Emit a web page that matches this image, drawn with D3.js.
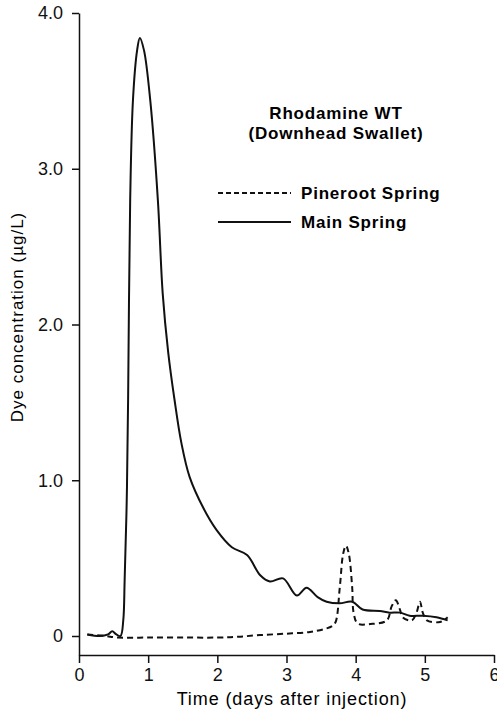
<!DOCTYPE html>
<html>
<head>
<meta charset="utf-8">
<script src="https://cdn.jsdelivr.net/npm/d3@7/dist/d3.min.js"></script>
<style>
  body { margin: 0; background: #fff; }
  svg { display: block; font-family: "Liberation Sans", Arial, Helvetica, sans-serif; }
  .axis path, .axis line { stroke: #111; stroke-width: 1.5; }
  .axis text { font-size: 18px; fill: #111; }
</style>
</head>
<body>
<svg width="497" height="711"></svg>
<script>
// Rhodamine WT breakthrough curves

// Main Spring (solid line)
var mainDays = [0.12, 0.3, 0.42, 0.48, 0.54, 0.6, 0.64, 0.66, 0.69, 0.71, 0.74, 0.78, 0.84, 0.88,
                0.94, 1.03, 1.14, 1.21, 1.29, 1.38, 1.48, 1.6, 1.8, 1.99, 2.21, 2.43, 2.62, 2.76,
                2.95, 3.15, 3.29, 3.45, 3.58, 3.77, 3.95, 4.1, 4.35, 4.49, 4.64, 4.78, 4.97, 5.17, 5.33];
var mainConc = [0.01, 0.0, 0.01, 0.03, 0.01, 0.0, 0.1, 0.36, 0.87, 1.52, 2.8, 3.44, 3.76, 3.84,
                3.76, 3.44, 2.8, 2.2, 1.82, 1.52, 1.24, 1.02, 0.82, 0.68, 0.57, 0.52, 0.39, 0.35,
                0.37, 0.26, 0.31, 0.25, 0.22, 0.21, 0.22, 0.17, 0.16, 0.15, 0.15, 0.13, 0.13, 0.12, 0.10];

// Pineroot Spring (dashed line)
var pineDays = [0.12, 0.38, 0.56, 1.0, 1.5, 2.0, 2.3, 2.62, 3.0, 3.34, 3.55, 3.66, 3.71, 3.77,
                3.82, 3.86, 3.9, 3.95, 3.97, 4.03, 4.21, 4.45, 4.52, 4.58, 4.64, 4.68, 4.81,
                4.88, 4.93, 4.97, 5.03, 5.22, 5.33];
var pineConc = [0.01, 0.0, -0.01, -0.01, -0.01, -0.01, -0.005, 0.006, 0.015, 0.026, 0.045, 0.064,
                0.09, 0.31, 0.53, 0.58, 0.53, 0.31, 0.15, 0.08, 0.077, 0.10, 0.19, 0.23, 0.17,
                0.12, 0.10, 0.15, 0.22, 0.15, 0.10, 0.09, 0.12];

var xTicks = [0, 1, 2, 3, 4, 5, 6];
var yTicks = [0, 1, 2, 3, 4];

var titleLines = ["Rhodamine WT", "(Downhead Swallet)"];
var legendNames = ["Pineroot Spring", "Main Spring"];

var svg = d3.select("svg");

// x axis runs 0..6 days; y axis line drops a bit below zero to meet it
var x = d3.scaleLinear().domain([0, 6]).range([79, 494]);
var y = d3.scaleLinear().domain([-0.122, 4]).range([655, 13]);

svg.append("g")
    .attr("class", "axis")
    .attr("transform", "translate(0," + y(-0.122) + ")")
    .call(d3.axisBottom(x).tickValues(xTicks).tickSize(8).tickSizeOuter(0).tickPadding(5)
      .tickFormat(d3.format("d")));

svg.append("g")
    .attr("class", "axis")
    .attr("transform", "translate(" + x(0) + ",0)")
    .call(d3.axisLeft(y).tickValues(yTicks).tickSize(7).tickSizeOuter(0).tickPadding(9)
      .tickFormat(function(d) { return d === 0 ? "0" : d3.format(".1f")(d); }));

svg.selectAll(".axis").attr("font-family", null).attr("font-size", null);

// axis titles
svg.append("text")
    .attr("x", 292)
    .attr("y", 705)
    .attr("text-anchor", "middle")
    .style("font-size", "18px")
    .style("letter-spacing", "0.9px")
    .text("Time (days after injection)");

svg.append("text")
    .attr("transform", "translate(23,317) rotate(-90)")
    .attr("text-anchor", "middle")
    .style("font-size", "17px")
    .style("letter-spacing", "1px")
    .text("Dye concentration (\u00b5g/L)");

// lines
var line = d3.line()
    .x(function(d) { return x(d[0]); })
    .y(function(d) { return y(d[1]); })
    .curve(d3.curveCatmullRom.alpha(0.5));

svg.append("path")
    .datum(d3.zip(pineDays, pineConc))
    .attr("d", line)
    .attr("fill", "none")
    .attr("stroke", "#111")
    .attr("stroke-width", 2)
    .attr("stroke-dasharray", "6,4");

svg.append("path")
    .datum(d3.zip(mainDays, mainConc))
    .attr("d", line)
    .attr("fill", "none")
    .attr("stroke", "#111")
    .attr("stroke-width", 2)
    .attr("stroke-linejoin", "round");

// title block
svg.selectAll("text.title")
    .data(titleLines)
    .enter()
    .append("text")
      .attr("class", "title")
      .attr("x", 336)
      .attr("y", function(d, i) { return 119 + i * 20; })
      .attr("text-anchor", "middle")
      .style("font-size", "17px")
      .style("font-weight", "bold")
      .style("letter-spacing", "0.8px")
      .text(function(d) { return d; });

// legend
var leg = svg.selectAll("g.legend")
    .data(legendNames)
    .enter()
    .append("g")
      .attr("class", "legend")
      .attr("transform", function(d, i) { return "translate(0," + (193 + i * 29) + ")"; });

leg.append("line")
    .attr("x1", 218)
    .attr("x2", 291)
    .attr("stroke", "#111")
    .attr("stroke-width", 2)
    .attr("stroke-dasharray", function(d, i) { return i == 0 ? "5,3" : null; });

leg.append("text")
    .attr("x", 301)
    .attr("y", 6)
    .style("font-size", "17px")
    .style("font-weight", "bold")
    .style("letter-spacing", "0.8px")
    .text(function(d) { return d; });
</script>
</body>
</html>
